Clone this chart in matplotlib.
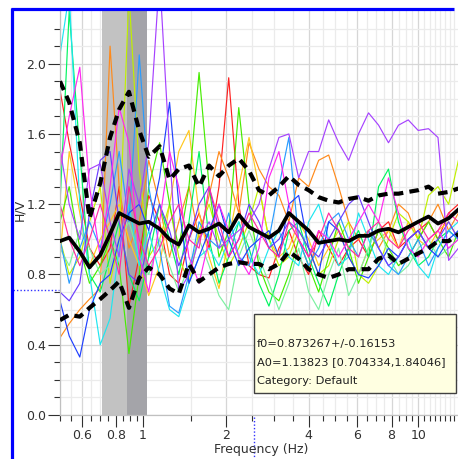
import matplotlib
matplotlib.use("Agg")
import matplotlib.pyplot as plt
from matplotlib.lines import Line2D
from matplotlib.patches import Rectangle
from matplotlib.ticker import FixedLocator, FixedFormatter, NullFormatter
import matplotlib.transforms as mtransforms

plt.rcParams['font.family'] = ['DejaVu Sans']

# ---------------- data ----------------
freq = [0.50, 0.54, 0.59, 0.64, 0.70, 0.76, 0.82, 0.89, 0.97, 1.05, 1.15, 1.25, 1.35, 1.47,
        1.60, 1.74, 1.89, 2.05, 2.23, 2.43, 2.64, 2.87, 3.12, 3.39, 3.68, 4.00, 4.35, 4.73,
        5.14, 5.59, 6.07, 6.60, 7.18, 7.80, 8.48, 9.20, 10.0, 10.9, 11.8, 12.9, 14.0]

hv_mean = [0.99, 1.01, 0.93, 0.84, 0.91, 1.03, 1.15, 1.12, 1.09, 1.10, 1.06, 1.00, 0.97, 1.08,
           1.04, 1.06, 1.09, 1.04, 1.14, 1.07, 1.04, 1.01, 1.05, 1.15, 1.10, 1.05, 0.98, 0.99,
           1.00, 0.99, 1.02, 1.02, 1.05, 1.06, 1.04, 1.07, 1.10, 1.13, 1.09, 1.12, 1.17]
hv_upper = [1.90, 1.78, 1.55, 1.12, 1.32, 1.58, 1.74, 1.84, 1.62, 1.47, 1.53, 1.34, 1.40, 1.42,
            1.30, 1.42, 1.36, 1.42, 1.46, 1.39, 1.28, 1.25, 1.30, 1.36, 1.31, 1.28, 1.24, 1.22,
            1.21, 1.23, 1.24, 1.22, 1.25, 1.26, 1.26, 1.27, 1.28, 1.30, 1.26, 1.27, 1.29]
hv_lower = [0.54, 0.57, 0.56, 0.61, 0.66, 0.71, 0.76, 0.61, 0.78, 0.84, 0.80, 0.72, 0.69, 0.86,
            0.76, 0.80, 0.84, 0.86, 0.87, 0.86, 0.86, 0.83, 0.86, 0.93, 0.89, 0.83, 0.80, 0.78,
            0.80, 0.83, 0.83, 0.83, 0.89, 0.91, 0.86, 0.89, 0.92, 0.95, 0.99, 0.99, 1.03]

win_red = [1.85, 1.55, 1.25, 0.95, 0.85, 0.95, 1.30, 0.62, 0.90, 1.25, 1.10, 0.80, 0.75, 1.00,
           1.15, 0.95, 1.30, 1.92, 1.20, 0.85, 0.80, 0.78, 0.95, 1.05, 0.90, 0.80, 1.05, 0.95,
           0.85, 0.95, 1.00, 0.90, 1.05, 1.10, 0.95, 1.00, 1.05, 1.10, 1.00, 1.15, 1.20]
win_orange = [0.44, 0.52, 0.60, 0.66, 0.72, 2.10, 1.30, 0.95, 1.10, 1.45, 1.20, 0.90, 1.10, 1.30,
              1.00, 1.25, 1.50, 1.35, 1.15, 1.55, 1.40, 1.30, 1.25, 1.10, 1.35, 1.30, 1.45, 1.48,
              1.30, 1.10, 1.00, 1.05, 0.95, 1.05, 1.20, 1.15, 1.00, 1.10, 1.20, 1.05, 1.15]
win_gold = [0.90, 1.50, 1.15, 0.85, 1.00, 1.10, 1.20, 1.00, 0.85, 0.68, 0.85, 1.20, 1.50, 1.62,
            1.15, 0.90, 0.72, 1.00, 1.30, 1.58, 1.30, 1.00, 0.90, 0.95, 1.10, 1.00, 0.85, 0.95,
            1.05, 0.90, 0.80, 0.95, 1.00, 1.05, 0.95, 1.10, 1.00, 0.95, 1.05, 1.10, 1.00]
win_lime = [1.00, 0.80, 0.90, 1.10, 1.30, 0.75, 1.00, 2.40, 1.40, 0.90, 1.00, 1.20, 0.90, 0.75,
            1.05, 1.20, 1.00, 0.85, 0.95, 1.10, 1.30, 1.00, 0.85, 0.90, 1.05, 0.95, 0.80, 0.85,
            1.00, 1.10, 0.80, 0.75, 0.85, 1.00, 1.15, 1.10, 1.00, 1.25, 1.30, 1.20, 1.45]
win_green = [1.10, 1.30, 0.95, 0.75, 0.85, 1.00, 0.85, 0.35, 0.80, 1.30, 1.55, 1.20, 0.95, 1.30,
             1.95, 1.30, 0.90, 1.05, 1.75, 1.20, 0.85, 0.70, 0.65, 0.80, 1.00, 0.85, 0.70, 0.90,
             1.10, 0.95, 0.75, 0.90, 1.05, 0.95, 0.85, 0.90, 1.00, 1.10, 1.00, 0.90, 1.05]
win_spring = [1.20, 2.30, 1.50, 0.80, 0.70, 0.90, 1.10, 0.80, 0.65, 0.90, 1.20, 1.00, 0.80, 1.10,
              1.50, 1.00, 0.75, 0.90, 1.10, 0.95, 0.75, 0.62, 0.80, 1.05, 1.10, 0.90, 0.75, 0.62,
              0.80, 0.95, 1.05, 0.90, 1.30, 1.40, 1.10, 0.95, 0.85, 0.90, 1.00, 1.05, 1.00]
win_cyan = [2.05, 2.40, 1.20, 0.80, 0.40, 0.55, 0.95, 1.20, 0.85, 1.05, 0.80, 0.60, 0.56, 0.75,
            0.90, 0.95, 0.85, 1.00, 1.10, 0.90, 0.80, 0.95, 1.05, 0.90, 0.85, 1.10, 1.20, 1.00,
            0.85, 0.90, 1.15, 1.00, 0.85, 0.80, 0.90, 1.00, 0.85, 0.78, 0.95, 1.05, 1.10]
win_sky = [1.00, 0.75, 0.95, 1.10, 0.95, 1.20, 1.50, 1.10, 2.05, 1.30, 0.95, 0.62, 0.58, 0.80,
           1.10, 1.00, 0.95, 1.15, 0.90, 0.85, 1.05, 1.00, 1.30, 1.58, 1.00, 0.85, 0.95, 1.10,
           1.15, 1.00, 0.90, 1.05, 0.95, 0.85, 0.80, 0.90, 1.00, 0.85, 0.95, 1.05, 1.00]
win_blue = [0.65, 0.45, 0.33, 0.60, 0.75, 0.80, 1.00, 1.15, 1.20, 1.05, 1.35, 1.78, 1.20, 0.75,
            0.90, 1.05, 1.20, 1.00, 0.85, 0.95, 1.00, 1.05, 0.90, 1.20, 1.25, 0.95, 0.80, 1.10,
            1.05, 0.90, 0.80, 0.78, 0.85, 0.95, 0.90, 1.00, 1.05, 0.95, 0.90, 1.00, 1.05]
win_indigo = [0.70, 0.65, 0.75, 1.15, 1.45, 1.50, 1.10, 0.80, 0.75, 1.00, 1.20, 1.05, 0.85, 1.00,
              1.20, 1.30, 1.05, 0.90, 1.00, 1.20, 1.10, 0.95, 1.00, 1.10, 1.05, 0.95, 0.90, 1.00,
              1.10, 1.20, 1.25, 1.10, 0.95, 0.85, 0.90, 1.00, 1.05, 0.95, 1.00, 1.10, 1.00]
win_purple = [1.52, 1.20, 1.00, 1.40, 1.43, 1.10, 0.90, 1.40, 1.20, 1.55, 2.50, 1.50, 0.70, 0.80,
              1.00, 1.10, 0.95, 1.00, 1.05, 1.10, 1.20, 1.40, 1.58, 1.60, 1.35, 1.50, 1.50, 1.68,
              1.55, 1.45, 1.60, 1.72, 1.65, 1.55, 1.65, 1.68, 1.62, 1.63, 1.58, 0.88, 0.95]
win_magenta = [1.40, 1.70, 1.98, 1.30, 0.90, 1.30, 1.75, 1.55, 0.90, 0.70, 1.10, 1.50, 1.30, 0.90,
               0.75, 1.00, 1.20, 1.05, 0.90, 0.80, 0.95, 1.35, 1.50, 1.20, 1.00, 0.90, 1.05, 1.00,
               0.90, 1.00, 1.10, 1.20, 1.10, 1.35, 1.15, 0.95, 0.90, 1.00, 1.05, 0.95, 1.00]
win_pink = [1.20, 1.00, 0.85, 1.00, 1.20, 1.00, 0.80, 1.30, 1.00, 0.85, 0.95, 1.10, 1.20, 1.00,
            0.95, 1.30, 1.10, 0.90, 1.00, 1.15, 1.05, 0.95, 0.90, 1.10, 1.00, 0.90, 1.00, 1.15,
            1.05, 0.95, 0.90, 1.05, 1.10, 1.00, 0.95, 1.05, 1.10, 1.00, 1.05, 1.15, 1.10]
win_mint = [0.95, 0.85, 1.05, 0.95, 0.80, 0.85, 1.00, 1.10, 0.90, 0.80, 1.00, 0.85, 0.70, 0.85,
            1.00, 0.85, 0.68, 0.60, 0.90, 1.05, 0.90, 0.75, 0.60, 0.75, 0.95, 0.70, 0.60, 0.80,
            0.95, 0.68, 0.80, 0.95, 1.10, 0.90, 0.80, 0.85, 0.95, 1.00, 0.90, 0.95, 1.00]

windows = [win_red, win_orange, win_gold, win_lime, win_green, win_spring, win_mint, win_cyan,
           win_sky, win_blue, win_indigo, win_purple, win_magenta, win_pink]
window_colors = ['#ff2020', '#ff8a1a', '#ffc81e', '#c0f000', '#46ec00', '#00f560', '#7cf0a0',
                 '#1ee6f0', '#2a9cff', '#2040ff', '#6a3cff', '#a642ff', '#ff28f0', '#ff2aa0']

f0 = 0.873267
f0_std = 0.16153
info_lines = ["f0=0.873267+/-0.16153", "A0=1.13823 [0.704334,1.84046]", "Category: Default"]
cursor_freq = 2.53
cursor_amp = 0.71

x_major = [0.6, 0.8, 1, 2, 4, 6, 8, 10]
x_major_labels = ['0.6', '0.8', '1', '2', '4', '6', '8', '10']
x_minor = [0.5, 0.55, 0.65, 0.7, 0.75, 0.85, 0.9, 0.95, 1.5, 2.5, 3, 3.5, 4.5, 5, 5.5, 6.5, 7,
           7.5, 8.5, 9, 9.5, 10.5, 11, 11.5, 12, 12.5, 13, 13.5]
y_major = [0.0, 0.4, 0.8, 1.2, 1.6, 2.0]
y_major_labels = ['0.0', '0.4', '0.8', '1.2', '1.6', '2.0']
y_minor = [0.1, 0.2, 0.3, 0.5, 0.6, 0.7, 0.9, 1.0, 1.1, 1.3, 1.4, 1.5, 1.7, 1.8, 1.9, 2.1, 2.2]

# ---------------- figure ----------------
W, H = 458, 459
fig = plt.figure(figsize=(W / 100, H / 100), dpi=100)
fig.patch.set_facecolor('white')
ax = fig.add_axes([60 / W, 44 / H, 398 / W, 404 / H])
ax.set_xscale('log')
ax.set_xlim(0.5, 13.95)
ax.set_ylim(0, 2.3)

ax.xaxis.set_major_locator(FixedLocator(x_major))
ax.xaxis.set_major_formatter(FixedFormatter(x_major_labels))
ax.xaxis.set_minor_locator(FixedLocator(x_minor))
ax.xaxis.set_minor_formatter(NullFormatter())
ax.yaxis.set_major_locator(FixedLocator(y_major))
ax.yaxis.set_major_formatter(FixedFormatter(y_major_labels))
ax.yaxis.set_minor_locator(FixedLocator(y_minor))
ax.yaxis.set_minor_formatter(NullFormatter())

ax.set_axisbelow(True)
ax.grid(which='major', color='#d6d6d6', lw=0.9)
ax.grid(which='minor', color='#ebebeb', lw=0.9)
ax.tick_params(which='major', length=8.5, width=0.8, color='#303030',
               labelsize=9, labelcolor='#303030', pad=1.5)
ax.tick_params(which='minor', length=4, width=0.8, color='#303030')
for s in ['top', 'right']:
    ax.spines[s].set_visible(False)
for s in ['left', 'bottom']:
    ax.spines[s].set_color('#c0c0c0')
    ax.spines[s].set_linewidth(0.9)

ax.axvspan(f0 - f0_std, f0, color='#c2c2c2', lw=0, zorder=1)
ax.axvspan(f0, f0 + f0_std, color='#a4a4a9', lw=0, zorder=1)

for vals, c in zip(windows, window_colors):
    ax.plot(freq, vals, color=c, lw=0.85, zorder=2)

ax.plot(freq, hv_mean, color='black', lw=2.7, zorder=4, solid_joinstyle='round')
for band in (hv_upper, hv_lower):
    ax.plot(freq, band, color='black', lw=3.0, zorder=4, linestyle=(0, (2.3, 1.5)),
            dash_capstyle='butt')

# cursor markers on the axes
tr_x = mtransforms.blended_transform_factory(ax.transData, ax.transAxes)
tr_y = mtransforms.blended_transform_factory(ax.transAxes, ax.transData)
ax.plot([cursor_freq, cursor_freq], [-0.005, -0.12], transform=tr_x, clip_on=False,
        color='#3030ff', lw=1, linestyle=(0, (1, 1.5)))
ax.plot([-0.118, -0.002], [cursor_amp, cursor_amp], transform=tr_y, clip_on=False,
        color='#3030ff', lw=1, linestyle=(0, (1, 1.5)))

fig.text(20 / W, 1 - 210 / H, 'H/V', rotation=90, ha='center', va='center',
         fontsize=9, color='#303030')
fig.text(261 / W, 1 - 450 / H, 'Frequency (Hz)', ha='center', va='center',
         fontsize=9, color='#303030')

# info box
fig.add_artist(Rectangle((254 / W, 1 - 393 / H), (456 - 254) / W, (393 - 314) / H,
                         transform=fig.transFigure, facecolor='#ffffe1',
                         edgecolor='#404040', lw=1.0, zorder=10))
for k, line in enumerate(info_lines):
    fig.text(257 / W, 1 - (344 + 18.5 * k) / H, line, ha='left', va='center',
             fontsize=8.2, color='#202020', zorder=11)

# blue selection frame
fig.add_artist(Line2D([11.5 / W, 11.5 / W], [0, 1 - 8 / H], color='#0000ff', lw=2.3,
                      transform=fig.transFigure, solid_capstyle='butt'))
fig.add_artist(Line2D([10.5 / W, 454 / W], [1 - 9 / H, 1 - 9 / H], color='#0000ff', lw=2.3,
                      transform=fig.transFigure, solid_capstyle='butt'))

fig.savefig('out.png', dpi=100)
